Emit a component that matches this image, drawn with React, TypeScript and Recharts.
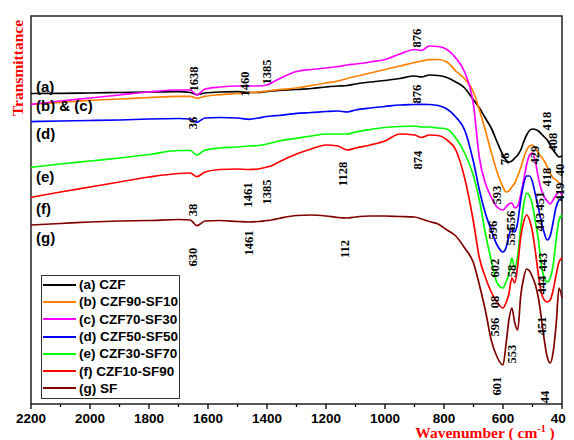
import { LineChart, Line, XAxis, YAxis, ReferenceArea, ReferenceDot, Legend } from 'recharts';

// wavenumber grid (cm-1), shared by all spectra
const wavenumbers = [
  2200, 2100, 2000, 1900, 1800, 1700, 1660, 1638, 1610, 1560, 1500, 1461, 1430, 1400, 1385, 1360, 1300, 1250,
  1200, 1160, 1128, 1100, 1050, 1000, 950, 900, 876, 850, 820, 790, 760, 730, 700, 680, 660, 640, 620, 600,
  590, 580, 570, 560, 550, 540, 530, 520, 510, 500, 490, 480, 470, 460, 450, 440, 430, 420, 410, 400,
];

// transmittance, arbitrary units (curves are offset as in the figure)
const czf = [
  310.5, 310.7, 311, 311.5, 312, 312.3, 311.5, 309.3, 311, 312, 312.3, 311.5, 311.5, 312.5, 313, 313.5, 314.5, 315.5,
  317, 318, 318.5, 320, 322, 323.5, 325.5, 328, 327, 329, 328.5, 326.5, 322, 316, 304, 296, 286, 276, 262, 249,
  244, 242, 243, 246, 249, 254, 262, 269, 273.5, 275, 274.5, 273, 270, 267, 264, 259, 254, 250, 247, 248,
];
const czf90 = [
  299.7, 301.5, 303.7, 305, 306.5, 307.7, 307.7, 305.7, 307.7, 309.3, 310.5, 311.3, 312, 313, 313.5, 314.3, 316, 318.5,
  321, 323, 325.5, 327.5, 331, 334.5, 338, 341.5, 343, 344.3, 344.5, 342, 333, 325, 312, 294, 274, 252, 232, 217,
  212, 213, 217, 221, 228, 236, 246, 254, 258, 259, 256, 251, 247, 243, 237, 231, 226, 224, 221, 219,
];
const czf70 = [
  299.7, 303, 306, 309, 312, 314, 314, 309, 315, 317, 318, 318, 318, 319, 321, 325, 332.5, 334.5,
  336, 337.5, 339, 340, 342, 344.5, 350, 354.5, 353.5, 358, 357.5, 354.5, 346, 332, 299, 246, 221, 207, 197, 194,
  197, 200, 201, 196, 198, 209, 224, 239, 249, 251, 242, 226, 214, 207, 203, 200, 204, 209, 212, 209,
];
const czf50 = [
  282.3, 283, 283.5, 284, 285, 285.5, 285, 281.7, 286, 286.5, 286, 284.7, 286, 287.5, 288, 288.5, 290.7, 291.5,
  292.5, 293, 292, 294, 296, 297.5, 299, 299.5, 299.7, 299.5, 298.5, 295, 287, 274, 242, 214, 191, 174, 159, 152,
  156, 168, 176, 172, 182, 204, 220, 228, 228, 222, 209, 196, 182, 171, 164, 168, 182, 197, 204, 206,
];
const czf30 = [
  236.7, 240, 243, 246, 249.5, 253.5, 253.5, 249, 254, 256, 257, 258, 258.5, 260, 261, 263, 265.7, 268,
  270, 270, 270, 272, 274.5, 276.5, 277.5, 278, 277, 277, 276, 275, 266, 251, 228, 204, 171, 144, 121, 116,
  122, 130, 146, 136, 149, 176, 199, 211, 208, 199, 182, 164, 139, 126, 122, 126, 139, 164, 184, 189,
];
const czf10 = [
  206.7, 212, 217, 222, 227, 230.5, 231, 227.3, 232, 234.5, 235, 234.5, 235, 237, 238, 242, 250, 255,
  259, 258, 254, 256, 259, 263, 270, 269, 266.5, 269, 268.5, 264, 254, 226, 182, 146, 127, 112, 102, 96,
  101, 110, 126, 121, 139, 167, 182, 189, 184, 172, 152, 129, 111, 104, 102, 104, 114, 129, 142, 146,
];
const sf = [
  179, 180.5, 182, 183, 183.5, 184.5, 184, 178.3, 183, 183.5, 182.5, 182, 182.5, 183.5, 184, 185.5, 188.5, 189,
  188, 186.5, 186, 187, 188, 188, 187.5, 187, 185, 182.5, 180, 174, 168, 156, 141, 119, 94, 64, 47, 39,
  59, 84, 96, 81, 74, 108, 126, 135, 133, 127, 119, 106, 86, 64, 47, 41, 52, 79, 116, 106,
];

const seriesKeys = ['a', 'b', 'c', 'd', 'e', 'f', 'g'];
const seriesNames = ['(a) CZF', '(b) CZF90-SF10', '(c) CZF70-SF30', '(d) CZF50-SF50', '(e) CZF30-SF70', '(f) CZF10-SF90', '(g) SF'];
const seriesColors = ['#000000', '#ff8000', '#ff00ff', '#0000ff', '#00ff00', '#ff0000', '#800000'];
const seriesValues = [czf, czf90, czf70, czf50, czf30, czf10, sf];

const xTicks = [2200, 2100, 2000, 1900, 1800, 1700, 1600, 1500, 1400, 1300, 1200, 1100, 1000, 900, 800, 700, 600, 500, 400];

// curve tags on the left
const curveTags = ['(a)', '(b) & (c)', '(d)', '(e)', '(f)', '(g)'];
const curveTagLevels = [318, 299, 271, 228, 196, 167];
const curveTagWavenumber = 2183;

// band annotations
const peakLabels = [
  '1638', '1460', '1385', '876', '36', '876', '874', '1128', '1461', '1385', '38', '1461', '630', '112',
  '76', '418', '408', '429', '593', '418', '40', '419', '596', '556', '554', '451', '443', '602', '58',
  '443', '444', '08', '596', '553', '451', '601', '44',
];
const peakWavenumbers = [
  1647, 1475, 1400, 891, 1651, 891, 888, 1142, 1464, 1400, 1651, 1461, 1651, 1136,
  593, 451, 430, 492, 620, 451, 407, 407, 634, 573, 573, 475, 475, 627, 570,
  464, 468, 627, 627, 570, 468, 620, 458,
];
const peakLevels = [
  325, 320, 332, 366, 281, 310, 244, 230, 209, 212, 194, 161, 147, 155,
  245, 283, 262, 249, 209, 227, 234, 212, 174, 184, 168, 203, 182, 136, 133,
  142, 119, 102, 77, 50, 78, 18, 7,
];

const data = wavenumbers.map((wn, i) => {
  const row: Record<string, number> = { wn };
  seriesKeys.forEach((k, s) => {
    row[k] = seriesValues[s][i];
  });
  return row;
});

const sans = "'Liberation Sans', Arial, sans-serif";
const serif = "'Liberation Serif', 'Times New Roman', serif";

const WaveTick = (props: any) => {
  const { x, y, payload } = props;
  const major = payload.value % 200 === 0;
  return (
    <g>
      <line x1={x} y1={y} x2={x} y2={y + (major ? 5 : 3)} stroke='#000' strokeWidth={1.3} />
      {major && (
        <text x={x} y={y + 14} textAnchor='middle' dominantBaseline='central' fontFamily={sans} fontWeight='bold' fontSize={13.5} fill='#000'>
          {payload.value}
        </text>
      )}
    </g>
  );
};

const XTitle = () => (
  <text x={477} y={430} textAnchor='middle' fill='#ff0000' fontFamily={serif} fontWeight='bold' fontSize={15.5}>
    Wavenumber ( cm
    <tspan dy={-6} fontSize={10}>-1</tspan>
    <tspan dy={6}> )</tspan>
  </text>
);

const YTitle = () => (
  <text x={9} y={60} transform='rotate(-90 9 60)' textAnchor='middle' dominantBaseline='central' fill='#ff0000' fontFamily={serif} fontWeight='bold' fontSize={15.5}>
    Transmittance
  </text>
);

const LegendBox = ({ payload }: any) => (
  <div style={{ border: '1.5px solid #333', background: '#fff', boxSizing: 'border-box', width: 139, height: 124 }}>
    {(payload || []).map((p: any) => (
      <div key={p.value} style={{ display: 'flex', alignItems: 'center', height: 17.3 }}>
        <span style={{ display: 'inline-block', width: 33, height: 2, background: p.color, marginLeft: 1, marginRight: 3 }} />
        <span style={{ font: `bold 13.5px ${sans}`, color: '#000', whiteSpace: 'nowrap' }}>{p.value}</span>
      </div>
    ))}
  </div>
);

const App = () => {
  return (
    <LineChart width={566} height={432} data={data} margin={{ top: 8, right: 12, bottom: 0, left: 0 }}>
      <XAxis
        type='number'
        dataKey='wn'
        domain={[400, 2200]}
        reversed
        ticks={xTicks}
        interval={0}
        tick={<WaveTick />}
        tickSize={0}
        tickMargin={0}
        tickLine={false}
        axisLine={false}
        height={36}
        label={<XTitle />}
      />
      <YAxis type='number' domain={[0, 388]} width={23} tick={false} tickLine={false} axisLine={false} label={<YTitle />} />
      <ReferenceArea x1={2200} x2={400} y1={0} y2={388} fill='none' stroke='#222' strokeWidth={1.5} />
      {seriesKeys.map((k, s) => (
        <Line
          key={k}
          type='monotone'
          dataKey={k}
          name={seriesNames[s]}
          stroke={seriesColors[s]}
          strokeWidth={1.7}
          dot={false}
          isAnimationActive={false}
        />
      ))}
      {curveTags.map((t, i) => (
        <ReferenceDot
          key={'tag' + i}
          x={curveTagWavenumber}
          y={curveTagLevels[i]}
          shape={(p: any) => (
            <text x={p.cx} y={p.cy} dominantBaseline='central' fontFamily={sans} fontWeight='bold' fontSize={15} fill='#000'>
              {t}
            </text>
          )}
        />
      ))}
      {peakLabels.map((t, i) => (
        <ReferenceDot
          key={'pk' + i}
          x={peakWavenumbers[i]}
          y={peakLevels[i]}
          shape={(p: any) => (
            <text
              x={p.cx}
              y={p.cy}
              transform={`rotate(-90 ${p.cx} ${p.cy})`}
              textAnchor='middle'
              dominantBaseline='central'
              fontFamily={serif}
              fontWeight='bold'
              fontSize={12.5}
              fill='#000'
            >
              {t}
            </text>
          )}
        />
      ))}
      <Legend
        layout='vertical'
        align='center'
        verticalAlign='middle'
        wrapperStyle={{ left: 33, top: 267, width: 139 }}
        content={<LegendBox />}
      />
    </LineChart>
  );
};

export default App;
